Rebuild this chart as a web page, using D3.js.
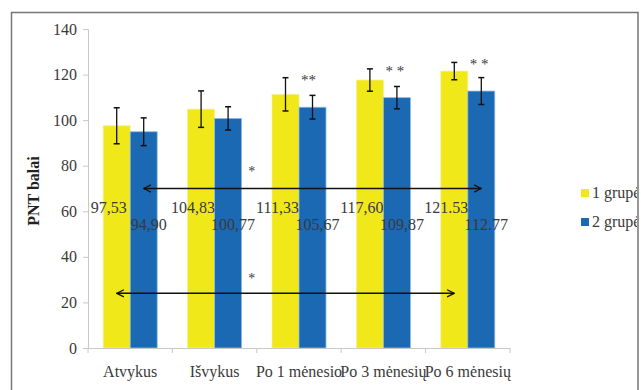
<!DOCTYPE html>
<html><head><meta charset="utf-8">
<script src="https://cdn.jsdelivr.net/npm/d3@7"></script>
<style>body{margin:0;background:#fff}svg{display:block}
svg text{font-family:"Liberation Serif","DejaVu Serif",serif;}
</style>
</head><body>
<script>
const categories = ["Atvykus", "Išvykus", "Po 1 mėnesio", "Po 3 mėnesių", "Po 6 mėnesių"];
const seriesNames = ["1 grupė", "2 grupė"];
const group1 = [97.53, 104.83, 111.33, 117.60, 121.53];
const group2 = [94.90, 100.77, 105.67, 109.87, 112.77];
const err1 = [7.9, 8.0, 7.3, 4.9, 3.8];
const err2 = [6.1, 5.1, 5.2, 4.9, 5.9];
const labels1 = ["97,53", "104,83", "111,33", "117,60", "121.53"];
const labels2 = ["94,90", "100,77", "105,67", "109,87", "112.77"];
const stars = ["", "", "**", "* *", "* *"];
const yTicks = [0, 20, 40, 60, 80, 100, 120, 140];
// significance arrows: [from category, to category, series index, y value]
const arrows = [
  {from: "Atvykus", to: "Po 6 mėnesių", series: 1, y: 70, star: 78},
  {from: "Atvykus", to: "Po 6 mėnesių", series: 0, y: 24, star: 31}
];

const W = 641, H = 390;
const svg = d3.select("body").append("svg").attr("width", W).attr("height", H);
const defs = svg.append("defs");
defs.append("clipPath").attr("id", "frameClip").append("rect")
  .attr("x", 11).attr("y", 12).attr("width", 626).attr("height", 380);
["arrEnd", "arrStart"].forEach((id, i) => {
  defs.append("marker").attr("id", id).attr("viewBox", "0 0 10 10")
    .attr("refX", 9).attr("refY", 5).attr("markerWidth", 9).attr("markerHeight", 9)
    .attr("markerUnits", "userSpaceOnUse")
    .attr("orient", i === 0 ? "auto" : "auto-start-reverse")
    .append("path").attr("d", "M1,1 L9,5 L1,9").attr("fill", "none")
    .attr("stroke", "#111").attr("stroke-width", 1.4);
});

const colors = ["#f1e81a", "#1b68b3"];
const x0 = d3.scaleBand().domain(categories).range([88, 510]).padding(0);
const x1 = d3.scaleBand().domain([0, 1]).range([0, x0.bandwidth()]).paddingInner(0).paddingOuter(0.563);
const y = d3.scaleLinear().domain([0, 140]).range([348, 29]);

const font = "Liberation Serif";
const textCol = "#3a3a3a";

// frame
svg.append("path").attr("d", `M11.5,${H+2} V12.5 H638 V${H+2}`)
  .attr("fill", "none").attr("stroke", "#777").attr("stroke-width", 1.5);

const g = svg.append("g");

// y axis
const yAxis = g.append("g").attr("transform", "translate(88,0)")
  .call(d3.axisLeft(y).tickValues(yTicks).tickSize(5).tickPadding(6));
yAxis.attr("font-family", null);
yAxis.select(".domain").attr("stroke", "#c8c8c8");
yAxis.selectAll(".tick line").attr("stroke", "#c8c8c8");
yAxis.selectAll("text").attr("font-size", 16).attr("fill", textCol);

// bars
const data = categories.map((c, i) => ({c, vals: [group1[i], group2[i]], errs: [err1[i], err2[i]], labs: [labels1[i], labels2[i]], star: stars[i]}));
const cg = g.selectAll(".cat").data(data).join("g").attr("transform", d => `translate(${x0(d.c)},0)`);
cg.selectAll("rect").data(d => d.vals.map((v, k) => ({v, k}))).join("rect")
  .attr("x", d => x1(d.k)).attr("width", x1.bandwidth())
  .attr("y", d => y(d.v)).attr("height", d => y(0) - y(d.v))
  .attr("fill", d => colors[d.k])
  .attr("stroke", d => d.k === 1 ? "#8fbbe6" : "#f6f18a").attr("stroke-width", 0.8);

// x axis
const xAxis = g.append("g").attr("transform", "translate(0,348)")
  .call(d3.axisBottom(x0).tickSize(0).tickPadding(18));
xAxis.attr("font-family", null);
xAxis.select(".domain").attr("stroke", "#c8c8c8");
xAxis.selectAll("text").attr("font-size", 16).attr("fill", textCol);
g.selectAll(".xtick").data(categories.concat([null])).join("line")
  .attr("x1", (d, i) => 88 + i * x0.step()).attr("x2", (d, i) => 88 + i * x0.step())
  .attr("y1", 348).attr("y2", 353).attr("stroke", "#c8c8c8");

// error bars
const eb = cg.selectAll(".eb").data(d => d.vals.map((v, k) => ({v, k, e: d.errs[k]}))).join("g");
eb.append("line").attr("x1", d => x1(d.k) + x1.bandwidth() / 2).attr("x2", d => x1(d.k) + x1.bandwidth() / 2)
  .attr("y1", d => y(d.v + d.e)).attr("y2", d => y(d.v - d.e)).attr("stroke", "#111").attr("stroke-width", 1.3);
[1, -1].forEach(s => {
  eb.append("line").attr("x1", d => x1(d.k) + x1.bandwidth() / 2 - 3).attr("x2", d => x1(d.k) + x1.bandwidth() / 2 + 3)
    .attr("y1", d => y(d.v + s * d.e)).attr("y2", d => y(d.v + s * d.e)).attr("stroke", "#111").attr("stroke-width", 1.5);
});

// value labels
cg.append("text").text(d => d.labs[0]).attr("x", x1(0) + x1.bandwidth() / 2 - 8).attr("y", 213)
  .attr("text-anchor", "middle").attr("font-size", 16).attr("fill", textCol);
cg.append("text").text(d => d.labs[1]).attr("x", x1(1) + x1.bandwidth() / 2 + 5).attr("y", 230)
  .attr("text-anchor", "middle").attr("font-size", 16).attr("fill", textCol);

// stars above pairs
cg.append("text").text(d => d.star).attr("x", x1(1) + 2).attr("y", d => y(d.vals[0] + d.errs[0]) + 7)
  .attr("font-size", 15).attr("fill", textCol);

// significance arrows
arrows.forEach(a => {
  const xa = x0(a.from) + x1(a.series) + x1.bandwidth() / 2;
  const xb = x0(a.to) + x1(a.series) + x1.bandwidth() / 2;
  g.append("line").attr("x1", xa).attr("x2", xb).attr("y1", y(a.y)).attr("y2", y(a.y))
    .attr("stroke", "#111").attr("stroke-width", 1.4)
    .attr("marker-end", "url(#arrEnd)").attr("marker-start", "url(#arrStart)");
  g.append("text").text("*").attr("x", x0(categories[2]) - 5).attr("y", y(a.star) + 6)
    .attr("text-anchor", "middle").attr("font-size", 14).attr("fill", textCol);
});

// y label
svg.append("text").text("PNT balai").attr("transform", "translate(39,191) rotate(-90)")
  .attr("text-anchor", "middle").attr("font-size", 16)
  .attr("font-weight", "bold").attr("fill", "#222");

// legend
const lg = svg.append("g").attr("clip-path", "url(#frameClip)");
seriesNames.forEach((n, i) => {
  const yy = 193 + i * 29;
  lg.append("rect").attr("x", 581).attr("y", yy - 4).attr("width", 8).attr("height", 8).attr("fill", colors[i]);
  lg.append("text").text(n).attr("x", 592).attr("y", yy + 5)
    .attr("font-size", 16).attr("fill", textCol);
});
</script>
</body></html>
